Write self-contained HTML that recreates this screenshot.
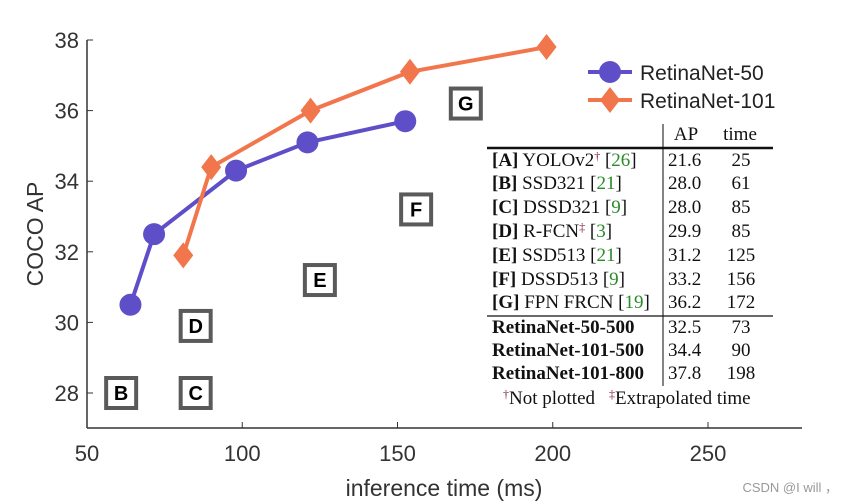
<!DOCTYPE html>
<html><head><meta charset="utf-8"><style>
body{margin:0;background:#fff;width:844px;height:504px;overflow:hidden}
svg{display:block}
.tb{font-family:"Liberation Serif",serif;font-size:19px;fill:#111}
.g{fill:#2a8a2a}
</style></head><body>
<svg width="844" height="504">
<g id="axes"></g>
<g id="marks"></g>
<g id="legend"></g>
<g id="table"></g>
<text x="838" y="492" text-anchor="end" font-family="Liberation Sans,sans-serif" font-size="13" fill="#999">CSDN @I will ，</text>
</svg>
<script>
const xTicks=[50,100,150,200,250];
const yTicks=[28,30,32,34,36,38];
const r50Time=[64,71.6,98,121,152.5];
const r50AP=[30.5,32.5,34.3,35.1,35.7];
const r101Time=[81,90,122,154,198];
const r101AP=[31.9,34.4,36.0,37.1,37.8];
const boxLabels=['B','C','D','E','F','G'];
const boxTime=[61,85,85,125,156,172];
const boxAP=[28.0,28.0,29.9,31.2,33.2,36.2];
const X=v=>87+(v-50)*3.105;
const Y=v=>393-(v-28)*35.3;
const NS='http://www.w3.org/2000/svg';
function mk(p,t,a,txt){const e=document.createElementNS(NS,t);for(const k in a)e.setAttribute(k,a[k]);if(txt!==undefined)e.textContent=txt;p.appendChild(e);return e;}
const ax=document.getElementById('axes');
const xl=mk(ax,'line',{x1:87,y1:428,x2:802,y2:428,stroke:'#333','stroke-width':1.5});


const yl=mk(ax,'line',{x1:87,y1:40,x2:87,y2:428,stroke:'#333','stroke-width':1.5});


xTicks.forEach(v=>{mk(ax,'line',{x1:X(v),y1:428,x2:X(v),y2:422,stroke:'#333'});
const t=mk(ax,'text',{x:X(v),y:461,'text-anchor':'middle','font-family':'Liberation Sans,sans-serif','font-size':22,fill:'#333'},v);

});
yTicks.forEach(v=>{mk(ax,'line',{x1:87,y1:Y(v),x2:93,y2:Y(v),stroke:'#333'});
const t=mk(ax,'text',{x:79,y:Y(v)+8,'text-anchor':'end','font-family':'Liberation Sans,sans-serif','font-size':22,fill:'#333'},v);

});
const xt=mk(ax,'text',{x:444,y:496,'text-anchor':'middle','font-family':'Liberation Sans,sans-serif','font-size':23,fill:'#333'},'inference time (ms)');


const yt=mk(ax,'text',{x:0,y:0,transform:'translate(43,234) rotate(-90)','text-anchor':'middle','font-family':'Liberation Sans,sans-serif','font-size':23,fill:'#333'},'COCO AP');


const mg=document.getElementById('marks');
boxLabels.forEach((l,i)=>{const g=mk(mg,'g',{});


mk(g,'rect',{x:X(boxTime[i])-15,y:Y(boxAP[i])-15,width:30,height:30,fill:'#fff',stroke:'#5a5a5a','stroke-width':4});
mk(g,'text',{x:X(boxTime[i]),y:Y(boxAP[i])+7,'text-anchor':'middle','font-family':'Liberation Sans,sans-serif','font-weight':'bold','font-size':20,fill:'#000'},l);});
function series(ts,as,col,diamond,name){const g=mk(mg,'g',{});


mk(g,'polyline',{points:ts.map((t,i)=>X(t)+','+Y(as[i])).join(' '),fill:'none',stroke:col,'stroke-width':4});
ts.forEach((t,i)=>{const x=X(t),y=Y(as[i]);
if(diamond)mk(g,'polygon',{points:`${x},${y-13} ${x+10},${y} ${x},${y+13} ${x-10},${y}`,fill:col});
else mk(g,'circle',{cx:x,cy:y,r:11,fill:col});});}
series(r50Time,r50AP,'#5e4fc8',false,'retinanet-50-series');
series(r101Time,r101AP,'#f2764c',true,'retinanet-101-series');
const lg=document.getElementById('legend');
mk(lg,'line',{x1:588,y1:72,x2:632,y2:72,stroke:'#5e4fc8','stroke-width':4});
mk(lg,'circle',{cx:610,cy:72,r:11,fill:'#5e4fc8'});
mk(lg,'text',{x:640,y:80,'font-family':'Liberation Sans,sans-serif','font-size':21,fill:'#222'},'RetinaNet-50');
mk(lg,'line',{x1:588,y1:100,x2:632,y2:100,stroke:'#f2764c','stroke-width':4});
mk(lg,'polygon',{points:'610,87 620,100 610,113 600,100',fill:'#f2764c'});
mk(lg,'text',{x:640,y:108,'font-family':'Liberation Sans,sans-serif','font-size':21,fill:'#222'},'RetinaNet-101');
const tb=document.getElementById('table');
mk(tb,'rect',{x:484,y:118,width:292,height:292,fill:'#fff'});
mk(tb,'line',{x1:663,y1:124,x2:663,y2:386,stroke:'#333','stroke-width':1.2});
mk(tb,'line',{x1:487,y1:148,x2:773,y2:148,stroke:'#111','stroke-width':2.5});
mk(tb,'line',{x1:487,y1:316,x2:773,y2:316,stroke:'#111','stroke-width':1.2});
mk(tb,'text',{x:686,y:140,'text-anchor':'middle',class:'tb'},'AP');
mk(tb,'text',{x:740,y:140,'text-anchor':'middle',class:'tb'},'time');
const rows=[['<tspan font-weight="bold">[A]</tspan> YOLOv2<tspan font-size="12" dy="-6" fill="#7a1a3a">†</tspan><tspan dy="6"> [</tspan><tspan class="g">26</tspan>]','21.6','25',160],
['<tspan font-weight="bold">[B]</tspan> SSD321 [<tspan class="g">21</tspan>]','28.0','61',183],
['<tspan font-weight="bold">[C]</tspan> DSSD321 [<tspan class="g">9</tspan>]','28.0','85',207],
['<tspan font-weight="bold">[D]</tspan> R-FCN<tspan font-size="12" dy="-6" fill="#7a1a3a">‡</tspan><tspan dy="6"> [</tspan><tspan class="g">3</tspan>]','29.9','85',231],
['<tspan font-weight="bold">[E]</tspan> SSD513 [<tspan class="g">21</tspan>]','31.2','125',255],
['<tspan font-weight="bold">[F]</tspan> DSSD513 [<tspan class="g">9</tspan>]','33.2','156',279],
['<tspan font-weight="bold">[G]</tspan> FPN FRCN [<tspan class="g">19</tspan>]','36.2','172',302],
['<tspan font-weight="bold">RetinaNet-50-500</tspan>','32.5','73',327],
['<tspan font-weight="bold">RetinaNet-101-500</tspan>','34.4','90',350],
['<tspan font-weight="bold">RetinaNet-101-800</tspan>','37.8','198',373]];
rows.forEach(r=>{const y=r[3]+6;
const a=mk(tb,'text',{x:492,y:y,class:'tb'});a.innerHTML=r[0];


mk(tb,'text',{x:668,y:y,class:'tb'},r[1]);
mk(tb,'text',{x:741,y:y,'text-anchor':'middle',class:'tb'},r[2]);});
const fn=mk(tb,'text',{x:503,y:404,class:'tb'});
fn.innerHTML='<tspan font-size="12" dy="-6" fill="#7a1a3a">†</tspan><tspan dy="6">Not plotted</tspan><tspan dx="14" font-size="12" dy="-6" fill="#7a1a3a">‡</tspan><tspan dy="6">Extrapolated time</tspan>';


</script>
</body></html>
